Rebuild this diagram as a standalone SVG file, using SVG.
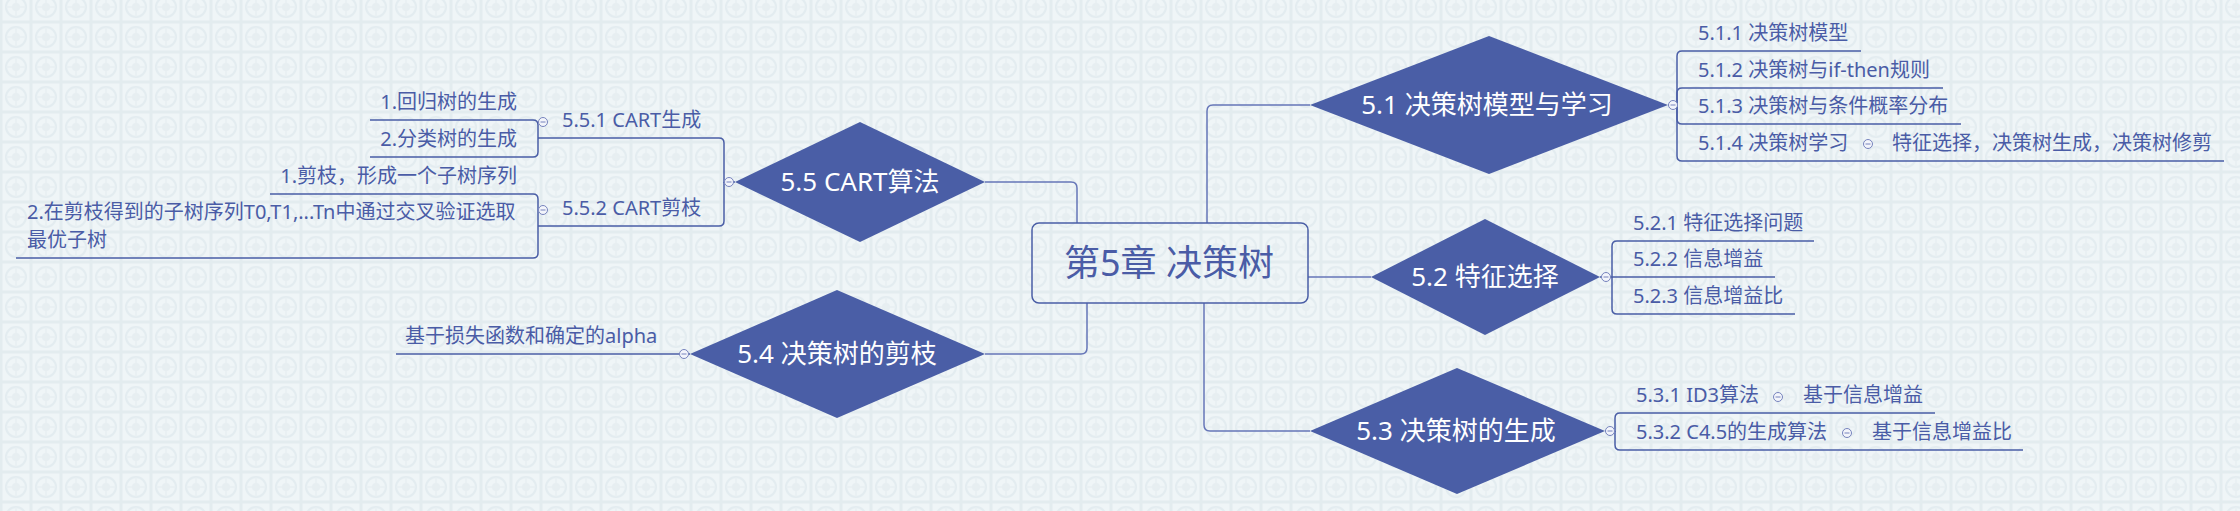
<svg xmlns="http://www.w3.org/2000/svg" width="2240" height="511" viewBox="0 0 2240 511">
<defs>
<pattern id="bg" width="30" height="30" patternUnits="userSpaceOnUse" x="1" y="22">
<rect width="30" height="30" fill="#e3ecef"/>
<rect x="1.5" y="1.5" width="27" height="27" fill="#eff5f7"/>
<circle cx="15" cy="15" r="10" fill="none" stroke="#e3ecf0" stroke-width="2"/>
<circle cx="15" cy="15" r="4" fill="#e6eef1"/>
<path d="M15,5 V25 M5,15 H25" stroke="#e8eff2" stroke-width="1.5"/>
</pattern>
<g id="cb"><circle r="4.5" fill="#f3f5fb" stroke="#7683bd" stroke-width="1"/><path d="M-2.5,0 H2.5" stroke="#7683bd" stroke-width="1"/></g>
</defs>
<style>
text{font-family:"Noto Sans","Noto Sans CJK SC",sans-serif}
.dm{fill:#4a5ea6}
.dt{fill:#ffffff;font-size:26px;text-anchor:middle}
.ct{fill:#4a5ca6;font-size:20px}
.ce{fill:#4a5ca6;font-size:20px;text-anchor:end}
.ln{fill:none;stroke:#4a5ea6;stroke-width:1.5}
.mc{fill:none;stroke:#6676b8;stroke-width:1.5}
</style>
<rect width="2240" height="511" fill="url(#bg)"/>

<g id="connectors">
<path class="mc" d="M1207,223 V111 Q1207,105 1213,105 H1310"/>
<path class="mc" d="M1077,223 V188 Q1077,182 1071,182 H985"/>
<path class="mc" d="M1308,277 H1371"/>
<path class="mc" d="M1087,303 V348 Q1087,354 1081,354 H985"/>
<path class="mc" d="M1204,303 V425 Q1204,431 1210,431 H1310"/>

<path class="ln" d="M1668,105 H1677 V56 Q1677,51 1682,51 H1861"/>
<path class="ln" d="M1677,105 V93 Q1677,88 1682,88 H1943"/>
<path class="ln" d="M1677,105 V119 Q1677,124 1682,124 H1961"/>
<path class="ln" d="M1677,105 V156 Q1677,161 1682,161 H2224"/>

<path class="ln" d="M1600,277 H1612 V246 Q1612,241 1617,241 H1814"/>
<path class="ln" d="M1612,277 H1775"/>
<path class="ln" d="M1612,277 V309 Q1612,314 1617,314 H1795"/>

<path class="ln" d="M1605,431 H1615 V418 Q1615,413 1620,413 H1935"/>
<path class="ln" d="M1615,431 V445 Q1615,450 1620,450 H2023"/>

<path class="ln" d="M735,182 H724 V143 Q724,138 719,138 H538"/>
<path class="ln" d="M724,182 V221 Q724,226 719,226 H538"/>

<path class="ln" d="M538,138 V125 Q538,120 533,120 H370"/>
<path class="ln" d="M538,138 V152 Q538,157 533,157 H370"/>
<path class="ln" d="M538,226 V199 Q538,194 533,194 H270"/>
<path class="ln" d="M538,226 V253 Q538,258 533,258 H16"/>

<path class="ln" d="M690,354 H396"/>
</g>

<g id="central">
<rect x="1032" y="223" width="276" height="80" rx="7" fill="none" stroke="#4a5ea6" stroke-width="1.5"/>
<text x="1169" y="276" text-anchor="middle" style="font-size:36px;fill:#4a5ca6">第5章 决策树</text>
</g>

<g id="n51">
<polygon class="dm" points="1310,105 1489,36 1668,105 1489,174"/>
<text class="dt" x="1487" y="114">5.1 决策树模型与学习</text>
<use href="#cb" x="1673" y="105"/>
</g>
<g id="n511"><text class="ct" x="1698" y="40">5.1.1 决策树模型</text></g>
<g id="n512"><text class="ct" x="1698" y="77">5.1.2 决策树与if-then规则</text></g>
<g id="n513"><text class="ct" x="1698" y="113">5.1.3 决策树与条件概率分布</text></g>
<g id="n514"><text class="ct" x="1698" y="150">5.1.4 决策树学习</text><use href="#cb" x="1868" y="144"/></g>
<g id="n514a"><text class="ct" x="1892" y="150">特征选择，决策树生成，决策树修剪</text></g>

<g id="n52">
<polygon class="dm" points="1371,277 1485,219 1600,277 1485,335"/>
<text class="dt" x="1485" y="286">5.2 特征选择</text>
<use href="#cb" x="1606" y="277"/>
</g>
<g id="n521"><text class="ct" x="1633" y="230">5.2.1 特征选择问题</text></g>
<g id="n522"><text class="ct" x="1633" y="266">5.2.2 信息增益</text></g>
<g id="n523"><text class="ct" x="1633" y="303">5.2.3 信息增益比</text></g>

<g id="n53">
<polygon class="dm" points="1310,431 1457,368 1605,431 1457,494"/>
<text class="dt" x="1456" y="440">5.3 决策树的生成</text>
<use href="#cb" x="1610" y="431"/>
</g>
<g id="n531"><text class="ct" x="1636" y="402">5.3.1 ID3算法</text><use href="#cb" x="1778" y="397"/></g>
<g id="n531a"><text class="ct" x="1803" y="402">基于信息增益</text></g>
<g id="n532"><text class="ct" x="1636" y="439">5.3.2 C4.5的生成算法</text><use href="#cb" x="1847" y="433"/></g>
<g id="n532a"><text class="ct" x="1872" y="439">基于信息增益比</text></g>

<g id="n54">
<polygon class="dm" points="690,354 837,290 985,354 837,418"/>
<text class="dt" x="837" y="363">5.4 决策树的剪枝</text>
<use href="#cb" x="684" y="354"/>
</g>
<g id="n541"><text class="ct" x="405" y="343">基于损失函数和确定的alpha</text></g>

<g id="n55">
<polygon class="dm" points="735,182 860,122 985,182 860,242"/>
<text class="dt" x="860" y="191">5.5 CART算法</text>
<use href="#cb" x="729" y="182"/>
</g>
<g id="n551"><text class="ct" x="562" y="127">5.5.1 CART生成</text><use href="#cb" x="543" y="122"/></g>
<g id="n5511"><text class="ce" x="517" y="109">1.回归树的生成</text></g>
<g id="n5512"><text class="ce" x="517" y="146">2.分类树的生成</text></g>
<g id="n552"><text class="ct" x="562" y="215">5.5.2 CART剪枝</text><use href="#cb" x="543" y="210"/></g>
<g id="n5521"><text class="ce" x="517" y="183">1.剪枝，形成一个子树序列</text></g>
<g id="n5522"><text class="ct" x="27" y="219">2.在剪枝得到的子树序列T0,T1,...Tn中通过交叉验证选取</text><text class="ct" x="27" y="247">最优子树</text></g>
</svg>
